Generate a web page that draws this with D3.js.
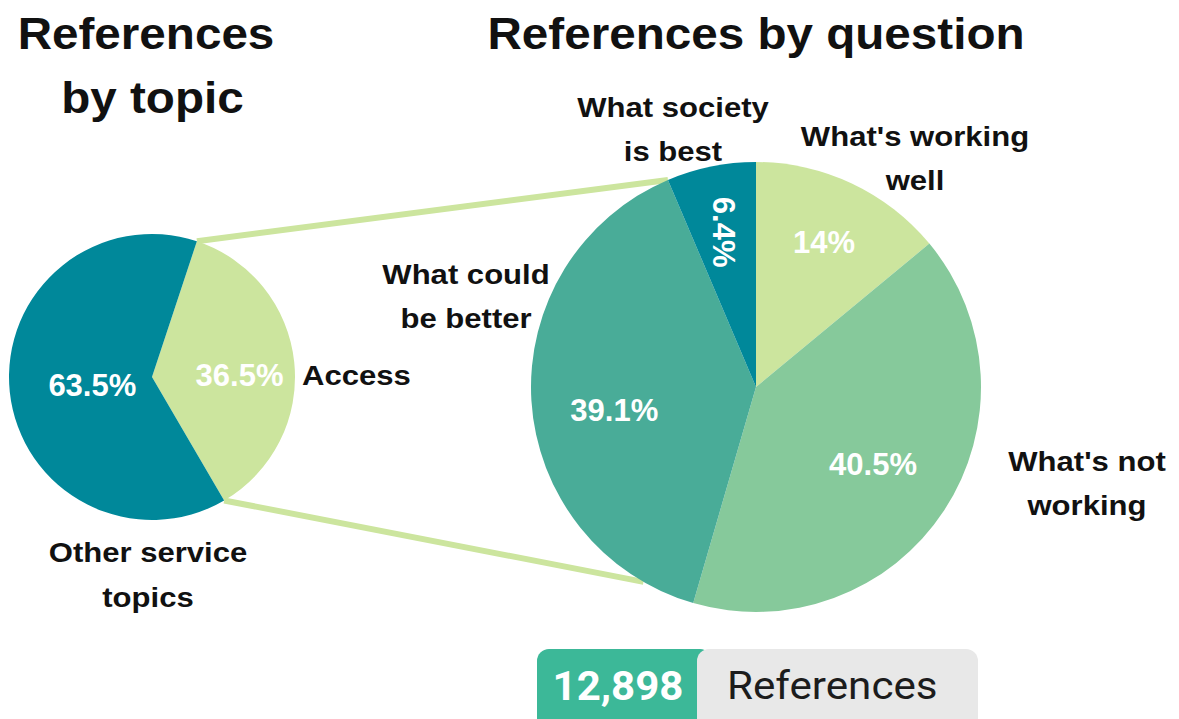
<!DOCTYPE html>
<html>
<head>
<meta charset="utf-8">
<script src="https://cdn.jsdelivr.net/npm/d3@7"></script>
<style>
  html, body { margin: 0; padding: 0; background: #fff; }
  svg { display: block; }
</style>
</head>
<body>
<svg id="chart" width="1179" height="719"></svg>
<script>
// ---- data ----
const topicNames = ["Access", "Other service topics"];
const topicShares = [36.5, 63.5];
const topicLabelLines = [["Access"], ["Other service", "topics"]];

const questionNames = ["What's working well", "What's not working", "What could be better", "What society is best"];
const questionShares = [14, 40.5, 39.1, 6.4];
const questionLabelLines = [["What's working", "well"], ["What's not", "working"], ["What could", "be better"], ["What society", "is best"]];

const referenceCount = 12898;
const referenceUnit = "References";

// ---- styling / layout ----
const deg = Math.PI / 180;
const LABEL_FONT = "'Liberation Sans', Arial, sans-serif";
const topicColors = ["#cce59e", "#00889a"];
const questionColors = ["#cce59e", "#86c99b", "#49ac98", "#00889a"];
const linkColor = "#cce59e";

const left = { cx: 152, cy: 377, r: 143, start: 18.3 * deg };
const right = { cx: 756, cy: 387, r: 225, start: 0 };

const topicPctRadius = [88, 60];
const topicPctNudge = [7, 2];
const questionPctRadius = [160, 140, 142, 158];
const questionPctNudge = [0, 0, 15, 0];

// outer category labels: anchor point of first line
const topicLabelPos = [{ x: 302, y: 385, anchor: "start" }, { x: 148, y: 562, anchor: "middle" }];
const questionLabelPos = [
  { x: 915, y: 146 }, { x: 1087, y: 471 }, { x: 466, y: 284 }, { x: 673, y: 117 }
];

const svg = d3.select("#chart");

// text helper: multi-line text, slightly widened horizontally
function drawText(parent, lines, x, y, o) {
  const t = parent.append("text")
    .attr("transform", `translate(${x},${y}) scale(${o.sx || 1},1)`)
    .attr("text-anchor", o.anchor || "middle")
    .attr("font-family", o.family || LABEL_FONT)
    .attr("font-weight", o.weight || "bold")
    .attr("font-size", o.size)
    .attr("fill", o.fill || "#111");
  lines.forEach((ln, i) => {
    t.append("tspan").attr("x", (o.indent && o.indent[i]) || 0).attr("y", i * (o.lh || 0)).text(ln);
  });
  return t;
}

// ---- pie layouts ----
const topicData = topicNames.map((n, i) => ({ name: n, share: topicShares[i], color: topicColors[i] }));
const questionData = questionNames.map((n, i) => ({ name: n, share: questionShares[i], color: questionColors[i] }));

const topicPie = d3.pie().sort(null).value(d => d.share)
  .startAngle(left.start).endAngle(left.start + 2 * Math.PI);
const questionPie = d3.pie().sort(null).value(d => d.share)
  .startAngle(right.start).endAngle(right.start + 2 * Math.PI);

const topicArcs = topicPie(topicData);
const questionArcs = questionPie(questionData);

// ---- connector lines from the Access slice to the question pie ----
const polar = (c, a) => [c.cx + c.r * Math.sin(a), c.cy - c.r * Math.cos(a)];
const access = topicArcs[0];
const society = questionArcs[3];
const links = [
  [polar(left, access.startAngle), polar(right, society.startAngle)],
  [polar(left, access.endAngle), polar(right, 210 * deg)]
];
svg.append("g").selectAll("line").data(links).join("line")
  .attr("x1", d => d[0][0]).attr("y1", d => d[0][1])
  .attr("x2", d => d[1][0]).attr("y2", d => d[1][1])
  .attr("stroke", linkColor).attr("stroke-width", 6);

// ---- left pie: references by topic ----
const gL = svg.append("g").attr("transform", `translate(${left.cx},${left.cy})`);
const arcL = d3.arc().innerRadius(0).outerRadius(left.r);
gL.selectAll("path").data(topicArcs).join("path")
  .attr("d", arcL).attr("fill", d => d.data.color);
topicArcs.forEach((d, i) => {
  const r = topicPctRadius[i];
  const [x, y] = d3.arc().innerRadius(r).outerRadius(r).centroid(d);
  drawText(gL, [d.data.share + "%"], x, y + 11 + topicPctNudge[i], { size: 31, fill: "#fff" });
});

// ---- right pie: references by question ----
const gR = svg.append("g").attr("transform", `translate(${right.cx},${right.cy})`);
const arcR = d3.arc().innerRadius(0).outerRadius(right.r);
gR.selectAll("path").data(questionArcs).join("path")
  .attr("d", arcR).attr("fill", d => d.data.color);
questionArcs.forEach((d, i) => {
  const r = questionPctRadius[i];
  const [x, y] = d3.arc().innerRadius(r).outerRadius(r).centroid(d);
  const label = d.data.share + "%";
  if (i === 3) {
    // narrow slice: run the label along the radius
    gR.append("text")
      .attr("transform", `translate(${x},${y}) rotate(90)`)
      .attr("text-anchor", "middle").attr("dy", "0.36em")
      .attr("font-family", LABEL_FONT).attr("font-weight", "bold")
      .attr("font-size", 31).attr("fill", "#fff").text(label);
  } else {
    drawText(gR, [label], x, y + 11 + questionPctNudge[i], { size: 31, fill: "#fff" });
  }
});

// ---- category labels ----
topicLabelLines.forEach((lines, i) => {
  const p = topicLabelPos[i];
  drawText(svg, lines, p.x, p.y, { size: 27.5, sx: 1.13, lh: 45, anchor: p.anchor });
});
questionLabelLines.forEach((lines, i) => {
  const p = questionLabelPos[i];
  drawText(svg, lines, p.x, p.y, { size: 27.5, sx: 1.13, lh: 44 });
});

// ---- titles ----
drawText(svg, ["References", "by topic"], 146, 49, { size: 44.5, sx: 1.07, lh: 64, indent: [0, 6] });
drawText(svg, ["References by question"], 756, 49, { size: 44.5, sx: 1.07 });

// ---- total badge ----
const badge = svg.append("g");
badge.append("rect").attr("x", 537).attr("y", 649).attr("width", 175).attr("height", 90)
  .attr("rx", 12).attr("fill", "#3cb898");
badge.append("rect").attr("x", 697).attr("y", 649).attr("width", 281).attr("height", 90)
  .attr("rx", 12).attr("fill", "#e8e8e8");
drawText(badge, [d3.format(",")(referenceCount)], 618, 700,
  { size: 40, sx: 1.05, family: "Roboto, sans-serif", fill: "#fff" });
drawText(badge, [referenceUnit], 727, 699,
  { size: 38, sx: 1.11, family: "Roboto, sans-serif", weight: "normal", fill: "#1c1c1c", anchor: "start" });
</script>
</body>
</html>
